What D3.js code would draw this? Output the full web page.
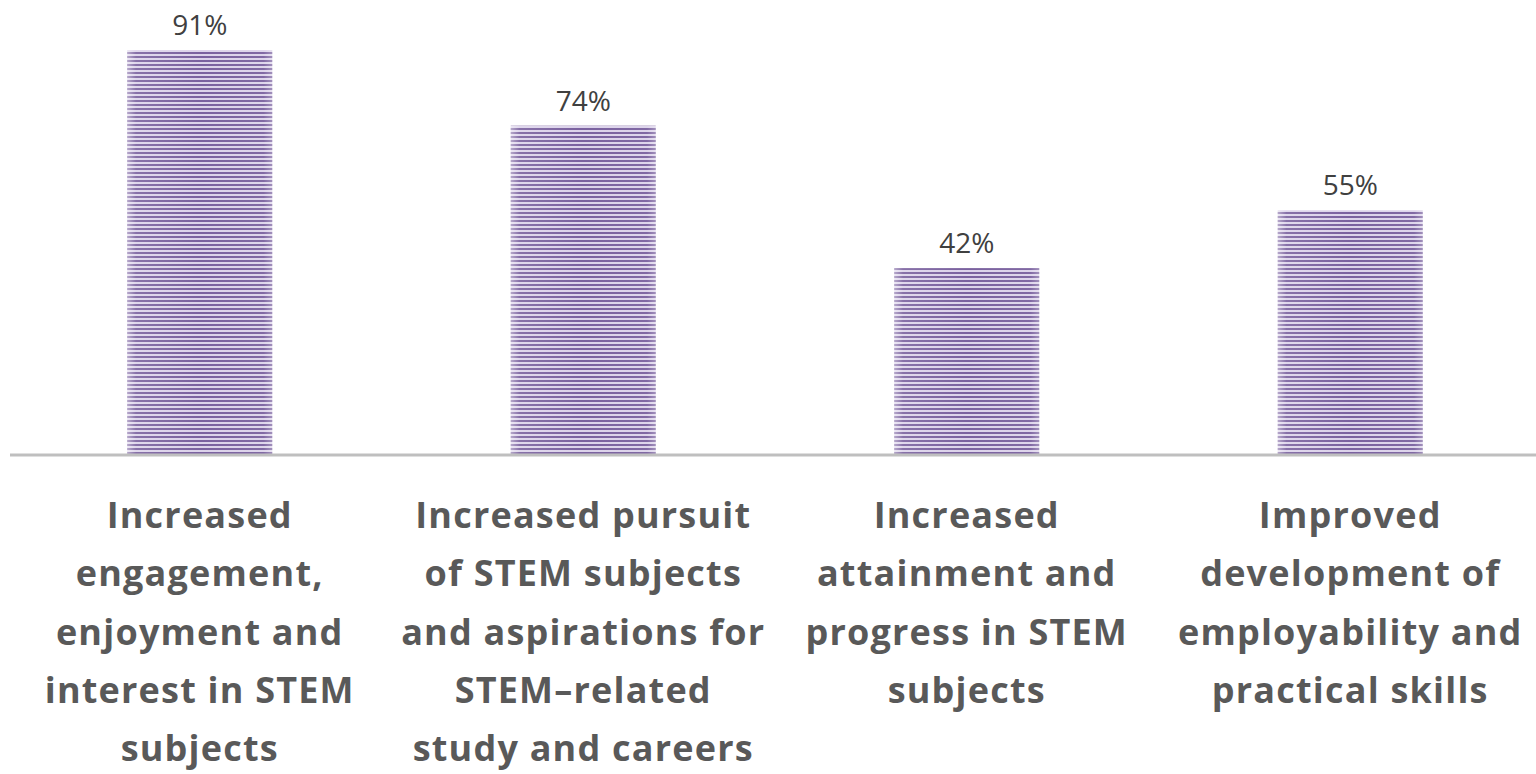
<!DOCTYPE html>
<html><head><meta charset="utf-8">
<script src="https://cdn.jsdelivr.net/npm/d3@7"></script>
<style>html,body{margin:0;padding:0;background:#fff;overflow:hidden}</style>
</head><body>
<svg id="chart" width="1536" height="774"></svg>
<script>
const categories = [
  ["Increased", "engagement,", "enjoyment and", "interest in STEM", "subjects"],
  ["Increased pursuit", "of STEM subjects", "and aspirations for", "STEM\u2013related", "study and careers"],
  ["Increased", "attainment and", "progress in STEM", "subjects"],
  ["Improved", "development of", "employability and", "practical skills"]
];
const values = [91, 74, 42, 55];
const valueLabels = ["91%", "74%", "42%", "55%"];

const svg = d3.select("#chart");
const defs = svg.append("defs");
const pat = defs.append("pattern").attr("id","stripes").attr("patternUnits","userSpaceOnUse")
  .attr("width",8).attr("height",4);
pat.append("rect").attr("width",8).attr("height",4).attr("fill","#dcd3ea");
pat.append("rect").attr("y",0).attr("width",8).attr("height",2).attr("fill","#7a619f");
const grad = defs.append("linearGradient").attr("id","shade").attr("x1","0").attr("x2","1").attr("y1","0").attr("y2","0");
grad.append("stop").attr("offset","0").attr("stop-color","#fff").attr("stop-opacity",0.45);
grad.append("stop").attr("offset","0.06").attr("stop-color","#fff").attr("stop-opacity",0.1);
grad.append("stop").attr("offset","0.5").attr("stop-color","#fff").attr("stop-opacity",0);
grad.append("stop").attr("offset","0.94").attr("stop-color","#fff").attr("stop-opacity",0.05);
grad.append("stop").attr("offset","1").attr("stop-color","#fff").attr("stop-opacity",0.3);

const x = d3.scaleBand().domain(d3.range(values.length)).range([8, 1542]).paddingInner(0.622).paddingOuter(0.311);
const y = d3.scaleLinear().domain([0, 100]).range([455, 455 - 445]);

const g = svg.append("g");
g.selectAll("rect.bar").data(values).join("rect").attr("class","bar")
  .attr("x",(d,i)=>x(i)).attr("width",x.bandwidth())
  .attr("y",d=>y(d)).attr("height",d=>y(0)-y(d))
  .attr("fill","url(#stripes)");
g.selectAll("rect.shade").data(values).join("rect").attr("class","shade")
  .attr("x",(d,i)=>x(i)).attr("width",x.bandwidth())
  .attr("y",d=>y(d)).attr("height",d=>y(0)-y(d))
  .attr("fill","url(#shade)");

svg.append("line").attr("x1",10).attr("x2",1536).attr("y1",y(0)).attr("y2",y(0))
  .attr("stroke","#bfbfbf").attr("stroke-width",3);

g.selectAll("text.val").data(values).join("text").attr("class","val")
  .attr("x",(d,i)=>x(i)+x.bandwidth()/2).attr("y",d=>y(d)-15)
  .attr("text-anchor","middle").attr("font-family","Open Sans").attr("font-size",28)
  .attr("fill","#404040").text((d,i)=>valueLabels[i]);

categories.forEach((lines,i)=>{
  const t = svg.append("text").attr("text-anchor","middle")
    .attr("font-family","Open Sans").attr("font-weight","bold").attr("font-size",36)
    .attr("letter-spacing",1.2)
    .attr("fill","#595959");
  lines.forEach((ln,j)=>{
    t.append("tspan").attr("x",x(i)+x.bandwidth()/2).attr("y",528+j*58.3).text(ln);
  });
});
</script>
</body></html>
